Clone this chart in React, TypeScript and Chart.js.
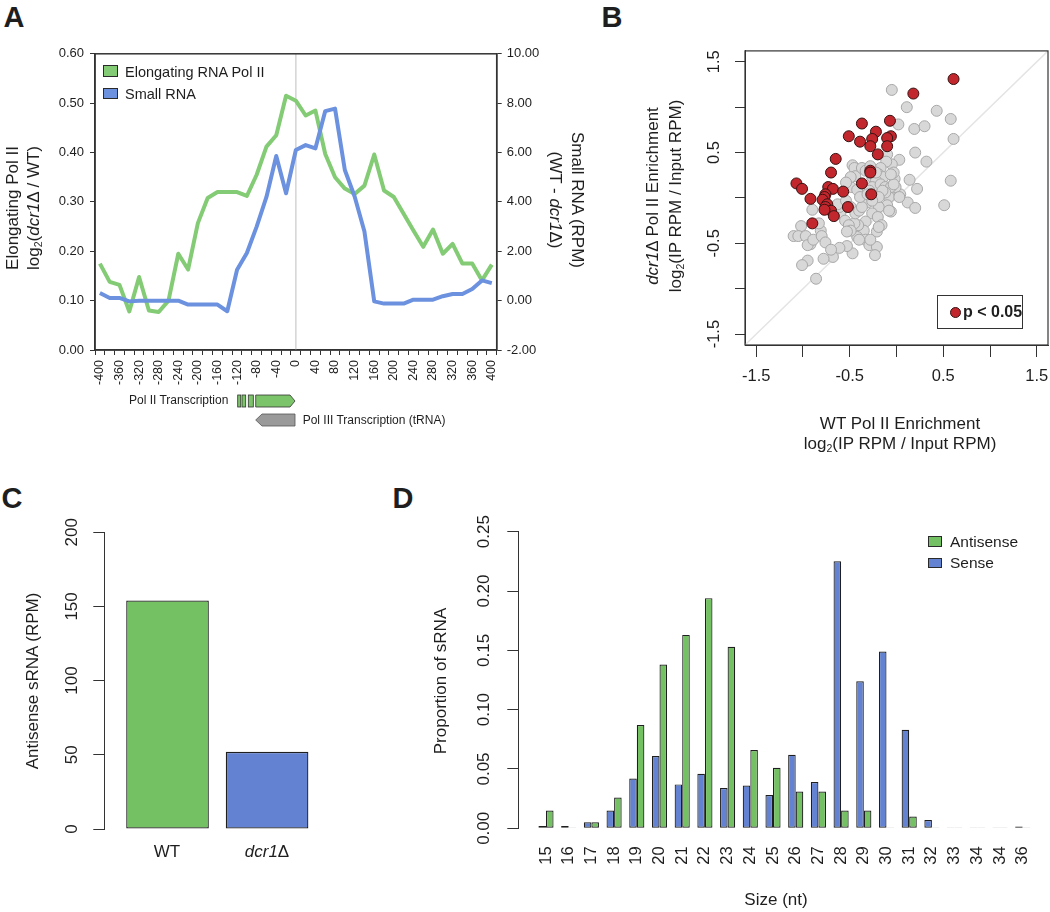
import React, { useEffect, useRef } from 'react';
import { Chart, registerables } from 'chart.js';

Chart.register(...registerables);

const FONT = '"Liberation Sans", Arial, Helvetica, sans-serif';
const INK = '#1e1e1e';
const AXIS = '#333333';
const GREEN_LINE = '#83cb74';
const BLUE_LINE = '#6b91df';
const GREEN_BAR = '#74c163';
const BLUE_BAR = '#6383d2';
const RED = '#c1272d';
const BAR_EDGE = '#1f1f1f';

// ---------- Panel A ----------
const positionLabels = [
  '-400', '-380', '-360', '-340', '-320', '-300', '-280', '-260', '-240', '-220',
  '-200', '-180', '-160', '-140', '-120', '-100', '-80', '-60', '-40', '-20',
  '0', '20', '40', '60', '80', '100', '120', '140', '160', '180',
  '200', '220', '240', '260', '280', '300', '320', '340', '360', '380', '400',
];
const polIIValues = [
  0.175, 0.138, 0.132, 0.078, 0.148, 0.080, 0.077, 0.100, 0.195, 0.163,
  0.257, 0.308, 0.320, 0.320, 0.320, 0.312, 0.355, 0.412, 0.435, 0.515,
  0.505, 0.475, 0.485, 0.397, 0.350, 0.327, 0.316, 0.333, 0.396, 0.323,
  0.310, 0.276, 0.242, 0.209, 0.244, 0.195, 0.215, 0.175, 0.175, 0.141, 0.173,
];
const smallRnaValues = [
  0.31, 0.11, 0.11, -0.03, 0.0, 0.0, 0.0, 0.0, 0.0, -0.16,
  -0.16, -0.16, -0.16, -0.43, 1.25, 1.93, 3.0, 4.2, 5.86, 4.35,
  6.1, 6.3, 6.17, 7.68, 7.78, 5.29, 4.22, 2.8, -0.03, -0.12,
  -0.12, -0.12, 0.04, 0.04, 0.04, 0.18, 0.27, 0.27, 0.47, 0.82, 0.71,
];
const aLeftTicks = [0, 0.1, 0.2, 0.3, 0.4, 0.5, 0.6];
const aRightTicks = [-2, 0, 2, 4, 6, 8, 10];

// ---------- Panel B ----------
const grayWT = [
  -0.05, 0.11, 0.43, 0.58, 0.02, 0.19, 0.30, 0.61, 0.20, 0.03,
  0.32, -0.10, -0.05, -0.11, 0.58, 0.14, 0.22, 0.51, 0.12, 0.20,
  -0.02, 0.01, 0.04, -0.01, -0.08, -0.06, -0.10, -0.17, -0.19, -0.14,
  -0.26, -0.22, -0.26, -0.29, -0.35, -0.31, -0.19, -0.26, -0.20, -0.16,
  -0.21, -0.33, -0.35, -0.41, -0.45, -0.42, -0.33, -0.29, -0.21, -0.23,
  -0.47, -0.53, -0.61, -0.68, -0.78, -0.86, -0.95, -1.01, -1.02, -1.10,
  -1.05, -0.97, -0.92, -0.95, -0.89, -0.81, -0.83, -0.80, -0.76, -0.70,
  -0.90, -0.60, -0.55, -0.51, -0.49, -0.53, -0.61, -0.63, -0.54, -0.49,
  -0.44, -0.40, -0.37, -0.49, -0.47, -0.45, -0.44, -0.49, -0.54, -0.42,
  -0.39, -0.37, -0.33, -0.28, -0.22, -0.17, -0.12, -0.06, -0.03, 0.03,
  -0.12, -0.08, -0.15, -0.19, -0.26, -0.31, -0.03, -0.06, -0.19, -0.28,
  -0.40,
];
const grayDcr = [
  1.19, 1.00, 0.96, 0.87, 0.81, 0.76, 0.79, 0.65, 0.50, 0.42,
  0.40, 0.48, 0.37, 0.40, 0.19, 0.20, 0.10, -0.08, -0.05, -0.11,
  0.21, 0.04, 0.04, 0.12, 0.01, -0.15, -0.08, 0.33, 0.26, 0.23,
  0.23, 0.19, 0.12, 0.08, 0.01, -0.05, -0.10, -0.17, -0.21, -0.30,
  -0.37, -0.26, -0.36, -0.30, -0.28, -0.43, -0.46, -0.52, -0.54, -0.63,
  -0.61, -0.53, -0.55, -0.65, -0.67, -0.89, -0.69, -0.74, -0.31, -0.42,
  -0.42, -0.42, -0.51, -0.52, -0.46, -0.36, -0.28, -0.42, -0.49, -0.57,
  -0.13, -0.17, -0.25, -0.30, -0.36, -0.37, -0.10, -0.07, -0.03, -0.10,
  -0.17, -0.14, -0.10, 0.12, 0.36, 0.33, 0.24, 0.23, 0.17, 0.09,
  0.01, 0.33, 0.30, 0.35, 0.28, 0.15, 0.12, 0.12, 0.15, 0.01,
  0.06, -0.14, 0.08, 0.01, -0.03, 0.04, 0.28, 0.26, -0.32, -0.46,
  -0.46,
];
const redWT = [
  0.61, 0.18, -0.37, -0.07, -0.22, -0.51, -0.39, -0.26, -0.06, -0.10,
  -0.10, -0.28, -0.20, -0.65, -0.70, -0.28, -0.28, -1.07, -1.01, -0.37,
  -0.73, -0.68, -0.57, -0.27, -0.92, -0.76, -0.77, -0.79, -0.74, -0.76,
  -0.70, -0.67, -0.52, -0.90, -0.77,
];
const redDcr = [
  1.31, 1.15, 0.82, 0.85, 0.73, 0.68, 0.62, 0.65, 0.68, 0.66,
  0.57, 0.57, 0.48, 0.43, 0.28, 0.30, 0.28, 0.16, 0.10, 0.16,
  0.12, 0.10, 0.07, 0.04, -0.01, 0.04, 0.01, -0.02, -0.07, -0.10,
  -0.14, -0.20, -0.10, -0.28, -0.13,
];
const bTickValues = [-1.5, -1, -0.5, 0, 0.5, 1, 1.5];
const bTickLabels = ['-1.5', '', '-0.5', '', '0.5', '', '1.5'];
const bLimit = 1.62;

// ---------- Panel C ----------
const cCategories = ['WT', 'dcr1Δ'];
const cValues = [154, 52];
const cTicks = [0, 50, 100, 150, 200];

// ---------- Panel D ----------
const sizeLabels = ['15', '16', '17', '18', '19', '20', '21', '22', '23', '24', '25',
  '26', '27', '28', '29', '30', '31', '32', '33', '34', '34', '36'];
const senseValues = [0.002, 0.002, 0.005, 0.015, 0.042, 0.061, 0.037, 0.046, 0.034, 0.036, 0.028,
  0.062, 0.039, 0.225, 0.124, 0.149, 0.083, 0.007, 0.0006, 0.0006, 0.0006, 0.0015];
const antisenseValues = [0.015, 0.0006, 0.005, 0.026, 0.087, 0.138, 0.163, 0.194, 0.153, 0.066, 0.051,
  0.031, 0.031, 0.015, 0.015, 0.0006, 0.010, 0.0006, 0.0006, 0.0006, 0.0006, 0.0006];
const dTicks = [0, 0.05, 0.1, 0.15, 0.2, 0.25];

const boxPlugin = (id: string, color: string, width: number) => ({
  id,
  afterDraw(chart: any) {
    const { ctx, chartArea: a } = chart;
    ctx.save();
    ctx.strokeStyle = color;
    ctx.lineWidth = width;
    ctx.strokeRect(a.left, a.top, a.right - a.left, a.bottom - a.top);
    ctx.restore();
  },
});

const zeroLinePlugin = {
  id: 'zeroLine',
  beforeDatasetsDraw(chart: any) {
    const { ctx, chartArea: a } = chart;
    const x = chart.scales.x.getPixelForValue(positionLabels.indexOf('0'));
    ctx.save();
    ctx.strokeStyle = '#d4d4d4';
    ctx.lineWidth = 1.5;
    ctx.beginPath();
    ctx.moveTo(x, a.top);
    ctx.lineTo(x, a.bottom);
    ctx.stroke();
    ctx.restore();
  },
};

const base = {
  responsive: false,
  animation: false as const,
  devicePixelRatio: 1,
  plugins: { legend: { display: false }, tooltip: { enabled: false } },
};

type TxtProps = {
  x: number; y: number; rot?: number; size?: number; bold?: boolean; lh?: number;
  left?: boolean; children: React.ReactNode;
};
function Txt({ x, y, rot = 0, size = 17, bold = false, lh, left = false, children }: TxtProps) {
  const style: React.CSSProperties = {
    position: 'absolute', left: x, top: y,
    transform: left ? 'translate(0, -50%)' : `translate(-50%, -50%) rotate(${rot}deg)`,
    fontFamily: FONT, fontSize: size, fontWeight: bold ? 700 : 400,
    lineHeight: lh ? `${lh}px` : 'normal', whiteSpace: 'nowrap', textAlign: 'center', color: INK,
  };
  return <div style={style}>{children}</div>;
}
const Sub = ({ children }: { children: React.ReactNode }) => (
  <span style={{ fontSize: '0.62em', verticalAlign: '-0.3em', lineHeight: 0 }}>{children}</span>
);
const Box = ({ x, y, w, h, color }: { x: number; y: number; w: number; h: number; color: string }) => (
  <div style={{ position: 'absolute', left: x, top: y, width: w, height: h, background: color, border: '1px solid #2a2a2a', boxSizing: 'border-box' }} />
);

export default function App() {
  const aRef = useRef<HTMLCanvasElement>(null);
  const bRef = useRef<HTMLCanvasElement>(null);
  const cRef = useRef<HTMLCanvasElement>(null);
  const dRef = useRef<HTMLCanvasElement>(null);

  useEffect(() => {
    Chart.defaults.font.family = FONT;
    Chart.defaults.color = INK;
    const charts: Chart[] = [];

    // Panel A
    charts.push(new Chart(aRef.current!, {
      type: 'line',
      data: {
        labels: positionLabels,
        datasets: [
          { label: 'Elongating RNA Pol II', data: polIIValues, yAxisID: 'y', borderColor: GREEN_LINE, borderWidth: 4, pointRadius: 0, tension: 0, borderJoinStyle: 'round', order: 1 },
          { label: 'Small RNA', data: smallRnaValues, yAxisID: 'y1', borderColor: BLUE_LINE, borderWidth: 4, pointRadius: 0, tension: 0, borderJoinStyle: 'round', order: 0 },
        ],
      },
      options: {
        ...base,
        layout: { padding: { top: 13.3, left: 0, right: 0, bottom: 0 } },
        scales: {
          x: {
            type: 'category', offset: true,
            grid: { offset: true, drawOnChartArea: false, drawTicks: true, tickLength: 5, color: AXIS },
            border: { color: AXIS, width: 1.5 },
            ticks: { autoSkip: false, minRotation: 90, maxRotation: 90, padding: 5, font: { size: 12.5 },
              callback: (_v: any, i: number) => (i % 2 === 0 ? positionLabels[i] : '') },
            afterFit: (s: any) => { s.height = 50; },
          },
          y: {
            position: 'left', min: 0, max: 0.6,
            afterBuildTicks: (s: any) => { s.ticks = aLeftTicks.map((v) => ({ value: v })); },
            ticks: { font: { size: 13 }, padding: 6, callback: (v: any) => Number(v).toFixed(2) },
            grid: { drawOnChartArea: false, tickLength: 5, color: AXIS },
            border: { color: AXIS, width: 1.5 },
            afterFit: (s: any) => { s.width = 95; },
          },
          y1: {
            position: 'right', min: -2, max: 10,
            afterBuildTicks: (s: any) => { s.ticks = aRightTicks.map((v) => ({ value: v })); },
            ticks: { font: { size: 13 }, padding: 5, callback: (v: any) => Number(v).toFixed(2) },
            grid: { drawOnChartArea: false, tickLength: 5, color: AXIS },
            border: { color: AXIS, width: 1.5 },
            afterFit: (s: any) => { s.width = 63.3; },
          },
        },
      } as any,
      plugins: [zeroLinePlugin, boxPlugin('boxA', AXIS, 1.5)],
    }));

    // Panel B
    charts.push(new Chart(bRef.current!, {
      type: 'scatter',
      data: {
        datasets: [
          { label: 'p < 0.05', data: redWT.map((x, i) => ({ x, y: redDcr[i] })), backgroundColor: RED, borderColor: '#3a1212', borderWidth: 1, pointRadius: 5.5, order: 0 },
          { label: 'other', data: grayWT.map((x, i) => ({ x, y: grayDcr[i] })), backgroundColor: '#d8d8d8', borderColor: '#a8a8a8', borderWidth: 1, pointRadius: 5.5, order: 1 },
          { label: 'identity', data: [{ x: -bLimit, y: -bLimit }, { x: bLimit, y: bLimit }], showLine: true, borderColor: '#e4e4e4', borderWidth: 1.5, pointRadius: 0, order: 2 },
        ],
      },
      options: {
        ...base,
        layout: { padding: { top: 13.3, left: 0, right: 22, bottom: 0 } },
        scales: {
          x: {
            type: 'linear', min: -bLimit, max: bLimit,
            afterBuildTicks: (s: any) => { s.ticks = bTickValues.map((v) => ({ value: v })); },
            ticks: { font: { size: 16.5 }, padding: 10, callback: (_v: any, i: number) => bTickLabels[i] },
            grid: { drawOnChartArea: false, tickLength: 12, color: AXIS },
            border: { color: AXIS, width: 1 },
            afterFit: (s: any) => { s.height = 65; },
          },
          y: {
            type: 'linear', min: -bLimit, max: bLimit,
            afterBuildTicks: (s: any) => { s.ticks = bTickValues.map((v) => ({ value: v })); },
            ticks: { font: { size: 16.5 }, padding: 6, minRotation: 90, maxRotation: 90, crossAlign: 'center',
              callback: (_v: any, i: number) => bTickLabels[i] },
            grid: { drawOnChartArea: false, tickLength: 10, color: AXIS },
            border: { color: AXIS, width: 1 },
            afterFit: (s: any) => { s.width = 55; },
          },
        },
      } as any,
      plugins: [boxPlugin('boxB', AXIS, 1.2)],
    }));

    // Panel C
    charts.push(new Chart(cRef.current!, {
      type: 'bar',
      data: {
        datasets: [{
          label: 'Antisense sRNA',
          data: cValues.map((v, i) => ({ x: i + 1, y: v })),
          backgroundColor: [GREEN_BAR, BLUE_BAR], borderColor: BAR_EDGE, borderWidth: 1.3,
          borderSkipped: false, inflateAmount: 0, barPercentage: 0.83, categoryPercentage: 1,
        }],
      },
      options: {
        ...base,
        layout: { padding: { top: 16.7, left: 0, right: 19.7, bottom: 26 } },
        scales: {
          x: {
            type: 'linear', display: false, offset: false, min: 0.365, max: 2.635,
            afterBuildTicks: (s: any) => { s.ticks = cCategories.map((_c, i) => ({ value: i + 1 })); },
          },
          y: {
            min: 0, max: 200,
            afterBuildTicks: (s: any) => { s.ticks = cTicks.map((v) => ({ value: v })); },
            ticks: { font: { size: 17 }, padding: 7, minRotation: 90, maxRotation: 90, crossAlign: 'center' },
            grid: { drawOnChartArea: false, tickLength: 11, color: AXIS },
            border: { color: AXIS, width: 1 },
            afterFit: (s: any) => { s.width = 84.3; },
          },
        },
      } as any,
    }));

    // Panel D
    charts.push(new Chart(dRef.current!, {
      type: 'bar',
      data: {
        datasets: [
          { label: 'Sense', data: senseValues.map((v, i) => ({ x: i, y: v })), backgroundColor: BLUE_BAR, borderColor: BAR_EDGE, borderWidth: 1.2, borderSkipped: false, inflateAmount: 0, barPercentage: 1, categoryPercentage: 2 / 3 },
          { label: 'Antisense', data: antisenseValues.map((v, i) => ({ x: i, y: v })), backgroundColor: GREEN_BAR, borderColor: BAR_EDGE, borderWidth: 1.2, borderSkipped: false, inflateAmount: 0, barPercentage: 1, categoryPercentage: 2 / 3 },
        ],
      },
      options: {
        ...base,
        layout: { padding: { top: 16.7, left: 0, right: 29.8, bottom: 0 } },
        scales: {
          x: {
            type: 'linear', offset: false, min: -1.22, max: 21.77,
            afterBuildTicks: (s: any) => { s.ticks = sizeLabels.map((_l, i) => ({ value: i })); },
            ticks: { autoSkip: false, minRotation: 90, maxRotation: 90, padding: 18, font: { size: 16.5 },
              callback: (v: any) => sizeLabels[v] ?? '' },
            grid: { display: false, drawTicks: false },
            border: { display: false },
            afterFit: (s: any) => { s.height = 46.7; },
          },
          y: {
            min: 0, max: 0.25,
            afterBuildTicks: (s: any) => { s.ticks = dTicks.map((v) => ({ value: v })); },
            ticks: { font: { size: 17 }, padding: 6, minRotation: 90, maxRotation: 90, crossAlign: 'center',
              callback: (v: any) => Number(v).toFixed(2) },
            grid: { drawOnChartArea: false, tickLength: 11, color: AXIS },
            border: { color: AXIS, width: 1 },
            afterFit: (s: any) => { s.width = 88.3; },
          },
        },
      } as any,
    }));

    return () => charts.forEach((c) => c.destroy());
  }, []);

  const cv = (left: number, top: number): React.CSSProperties => ({ position: 'absolute', left, top });

  return (
    <div style={{ position: 'absolute', left: 0, top: 0, width: 1050, height: 912, overflow: 'hidden', background: '#ffffff', fontFamily: FONT }}>
      <canvas ref={aRef} width={560} height={360} style={cv(0, 40)} />
      <canvas ref={bRef} width={380} height={375} style={cv(690, 35)} />
      <canvas ref={cRef} width={330} height={340} style={cv(20, 515)} />
      <canvas ref={dRef} width={640} height={360} style={cv(430, 515)} />

      {/* Panel letters */}
      <Txt x={14} y={17} size={29} bold>A</Txt>
      <Txt x={612} y={17} size={29} bold>B</Txt>
      <Txt x={12} y={498} size={29} bold>C</Txt>
      <Txt x={403} y={498} size={29} bold>D</Txt>

      {/* Panel A texts */}
      <Txt x={22.5} y={208} rot={-90} lh={21}>
        <div>Elongating Pol II</div>
        <div>log<Sub>2</Sub>(<i>dcr1</i>Δ / WT)</div>
      </Txt>
      <Txt x={566} y={200} rot={90} lh={22}>
        <div>Small RNA (RPM)</div>
        <div>(WT - <i>dcr1</i>Δ)</div>
      </Txt>
      <Box x={103.3} y={65} w={15} h={11.7} color={GREEN_LINE} />
      <Box x={103.3} y={87.7} w={15} h={11.7} color={BLUE_LINE} />
      <Txt x={125} y={71.5} size={14.5} left>Elongating RNA Pol II</Txt>
      <Txt x={125} y={94} size={14.5} left>Small RNA</Txt>

      <svg width={1050} height={912} style={{ position: 'absolute', left: 0, top: 0, pointerEvents: 'none' }}>
        <text x={129} y={401} fontFamily={FONT} fontSize={12} fill={INK} dominantBaseline="middle">Pol II Transcription</text>
        <rect x={237.7} y={395} width={3} height={12} fill="#7cc46a" stroke="#333" strokeWidth={0.8} />
        <rect x={242} y={395} width={3.7} height={12} fill="#7cc46a" stroke="#333" strokeWidth={0.8} />
        <rect x={248.3} y={395} width={5} height={12} fill="#7cc46a" stroke="#333" strokeWidth={0.8} />
        <polygon points="255.7,395 290,395 295,401 290,407 255.7,407" fill="#7cc46a" stroke="#333" strokeWidth={0.8} />
        <polygon points="255.7,420 262,414 295,414 295,426 262,426" fill="#9a9a9a" stroke="#555" strokeWidth={0.8} />
        <text x={302.7} y={420.5} fontFamily={FONT} fontSize={12} fill={INK} dominantBaseline="middle">Pol III Transcription (tRNA)</text>
      </svg>

      {/* Panel B texts */}
      <Txt x={663.5} y={196} rot={-90} lh={23}>
        <div><i>dcr1</i>Δ Pol II Enrichment</div>
        <div>log<Sub>2</Sub>(IP RPM / Input RPM)</div>
      </Txt>
      <Txt x={900} y={434} lh={20}>
        <div>WT Pol II Enrichment</div>
        <div>log<Sub>2</Sub>(IP RPM / Input RPM)</div>
      </Txt>
      <div style={{ position: 'absolute', left: 937, top: 295, width: 86, height: 34, border: '1px solid #333', boxSizing: 'border-box', background: '#fff' }} />
      <div style={{ position: 'absolute', left: 949.5, top: 306.5, width: 11, height: 11, borderRadius: '50%', background: RED, border: '1px solid #3a1212', boxSizing: 'border-box' }} />
      <Txt x={963} y={312} size={16} bold left>p &lt; 0.05</Txt>

      {/* Panel C texts */}
      <Txt x={33} y={681} rot={-90}>Antisense sRNA (RPM)</Txt>
      <Txt x={167} y={852}>{cCategories[0]}</Txt>
      <Txt x={267} y={852}><i>dcr1</i>Δ</Txt>

      {/* Panel D texts */}
      <Txt x={441} y={681} rot={-90}>Proportion of sRNA</Txt>
      <Txt x={776} y={900}>Size (nt)</Txt>
      <Box x={928.3} y={536} w={14} h={10.7} color={GREEN_BAR} />
      <Box x={928.3} y={557.7} w={14} h={10.7} color={BLUE_BAR} />
      <Txt x={950} y={541.5} size={15.5} left>Antisense</Txt>
      <Txt x={950} y={563} size={15.5} left>Sense</Txt>
    </div>
  );
}
